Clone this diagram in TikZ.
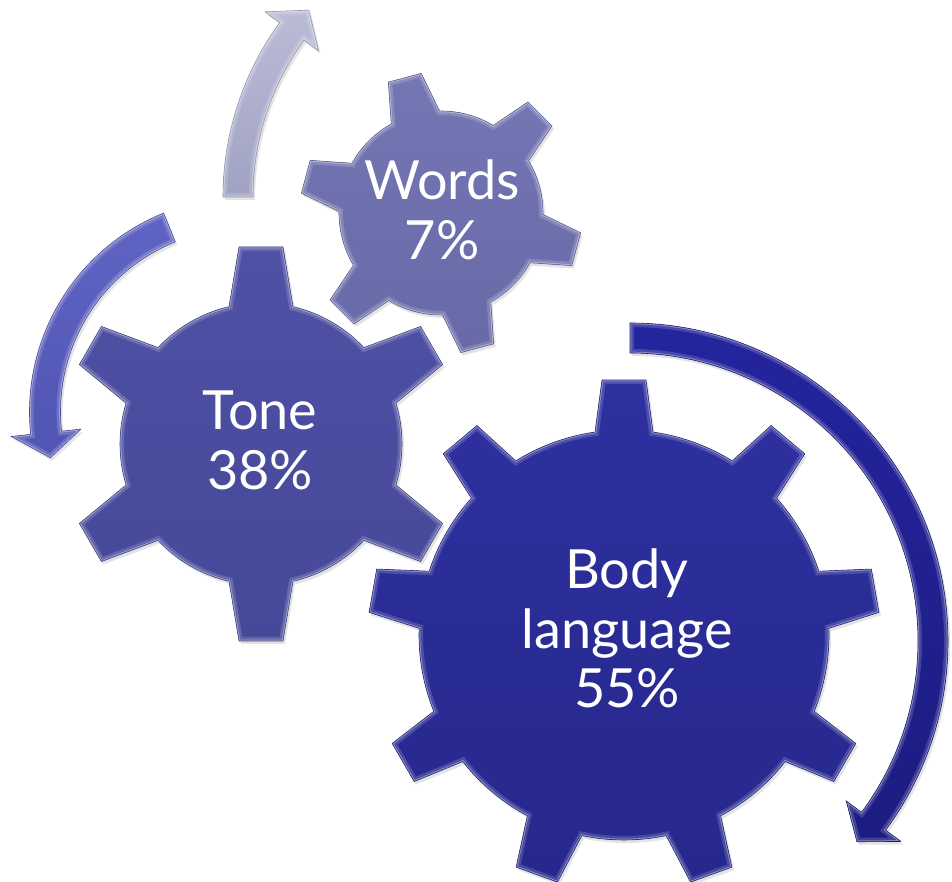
\documentclass[tikz,border=0pt]{standalone}
\usepackage{fontspec}
\setmainfont{Lato}
\usetikzlibrary{shadows}

\definecolor{wordsfill}{RGB}{117,119,180}
\definecolor{wordsdark}{RGB}{104,106,168}
\definecolor{tonefill}{RGB}{78,81,165}
\definecolor{tonedark}{RGB}{70,73,152}
\definecolor{bodyfill}{RGB}{46,48,160}
\definecolor{bodydark}{RGB}{38,40,140}
\definecolor{arrowtop}{RGB}{186,188,214}
\definecolor{arrowtopdark}{RGB}{160,162,194}
\definecolor{arrowleft}{RGB}{96,100,196}
\definecolor{arrowleftdark}{RGB}{80,84,178}
\definecolor{arrowright}{RGB}{36,36,158}
\definecolor{arrowrightdark}{RGB}{28,28,130}

% gear geometry: teeth, first tooth angle, tip radius, body radius,
% half width of a tooth at its tip, half width at its root
\newcommand\gearsetup[6]{%
  \pgfmathtruncatemacro\gearLast{#1-1}%
  \pgfmathsetmacro\gearStep{360/#1}%
  \pgfmathsetmacro\gearStart{#2}%
  \pgfmathsetmacro\gearTip{veclen(#3,#5)}%
  \pgfmathsetmacro\gearBody{#4}%
  \pgfmathsetmacro\gearDt{atan(#5/#3)}%
  \pgfmathsetmacro\gearDr{asin(#6/#4)}%
}
\newcommand\gearpath{%
  ({\gearStart-\gearDr}:\gearBody pt)
  \foreach \k in {0,...,\gearLast}{
    -- ({\gearStart+\k*\gearStep-\gearDt}:\gearTip pt)
    -- ({\gearStart+\k*\gearStep+\gearDt}:\gearTip pt)
    -- ({\gearStart+\k*\gearStep+\gearDr}:\gearBody pt)
    arc[start angle={\gearStart+\k*\gearStep+\gearDr},
        delta angle={\gearStep-2*\gearDr}, radius=\gearBody pt]
  } -- cycle}

% curved arrow: mid radius, half band width, tail angle,
% head base angle, tip angle, half head width
\newcommand\arrowsetup[6]{%
  \pgfmathsetmacro\arO{#1+#2}\pgfmathsetmacro\arI{#1-#2}%
  \pgfmathsetmacro\arHO{#1+#6}\pgfmathsetmacro\arHI{#1-#6}%
  \def\arM{#1}\def\arA{#3}\def\arB{#4}\def\arC{#5}%
}
\newcommand\arrowpath{%
  (\arA:\arO pt) arc[start angle=\arA, end angle=\arB, radius=\arO pt]
  -- (\arB:\arHO pt) -- (\arC:\arM pt) -- (\arB:\arHI pt)
  -- (\arB:\arI pt) arc[start angle=\arB, end angle=\arA, radius=\arI pt]
  -- cycle}

% glossy rim along the inside of the current shape
\newcommand\bevel[2]{%
  \begin{scope}
    \clip #1;
    \draw[line width=8pt, white, opacity=0.16] #1;
    \draw[line width=2.6pt, white, opacity=0.38] #1;
  \end{scope}
  \draw[line width=0.6pt, #2] #1;
}

\tikzset{
  x=1pt, y=1pt,
  soft shadow/.style={drop shadow={opacity=0.22, shadow xshift=2pt, shadow yshift=-3pt}},
  gearlabel/.style={text=white, inner sep=0pt, anchor=base,
    font=\fontsize{54}{59.5}\selectfont}
}

\begin{document}
\begin{tikzpicture}
  \fill[white] (0,0) rectangle (952,882);
  \useasboundingbox (0,0) rectangle (952,882);

  % arrow above the small gear
  \begin{scope}[shift={(520,685)}]
    \arrowsetup{282}{15}{180}{144}{138.5}{33}
    \path[soft shadow, top color=arrowtop, bottom color=arrowtopdark] \arrowpath;
    \bevel{\arrowpath}{arrowtopdark!90!black}
  \end{scope}

  % arrow to the left of the middle gear
  \begin{scope}[shift={(244,470)}]
    \arrowsetup{199}{15.5}{112}{186}{193.3}{35}
    \path[soft shadow, top color=arrowleft, bottom color=arrowleftdark] \arrowpath;
    \bevel{\arrowpath}{arrowleftdark!85!black}
  \end{scope}

  % arrow round the large gear
  \begin{scope}[shift={(630,241)}]
    \arrowsetup{303}{15}{90}{-36.5}{-41.5}{34}
    \path[soft shadow, top color=arrowright, bottom color=arrowrightdark] \arrowpath;
    \bevel{\arrowpath}{arrowrightdark!85!black}
  \end{scope}

  % large gear
  \begin{scope}[shift={(624,247)}]
    \gearsetup{9}{90}{255}{205}{22}{29}
    \path[soft shadow, top color=bodyfill, bottom color=bodydark] \gearpath;
    \bevel{\gearpath}{bodydark!85!black}
  \end{scope}

  % middle gear
  \begin{scope}[shift={(261,438)}]
    \gearsetup{6}{90}{197}{141}{22}{32}
    \path[soft shadow, top color=tonefill, bottom color=tonedark] \gearpath;
    \bevel{\gearpath}{tonedark!85!black}
  \end{scope}

  % small gear
  \begin{scope}[shift={(441,669)}]
    \gearsetup{6}{105}{140}{102}{17}{25}
    \path[soft shadow, top color=wordsfill, bottom color=wordsdark] \gearpath;
    \bevel{\gearpath}{wordsdark!85!black}
  \end{scope}

  \node[gearlabel] (words) at (442,682)
    {\begin{tabular}[t]{@{}c@{}}Words\\7\%\end{tabular}};
  \node[gearlabel] (tone) at (260,452)
    {\begin{tabular}[t]{@{}c@{}}Tone\\38\%\end{tabular}};
  \node[gearlabel] (body) at (627,293)
    {\begin{tabular}[t]{@{}c@{}}Body\\language\\55\%\end{tabular}};
\end{tikzpicture}
\end{document}
